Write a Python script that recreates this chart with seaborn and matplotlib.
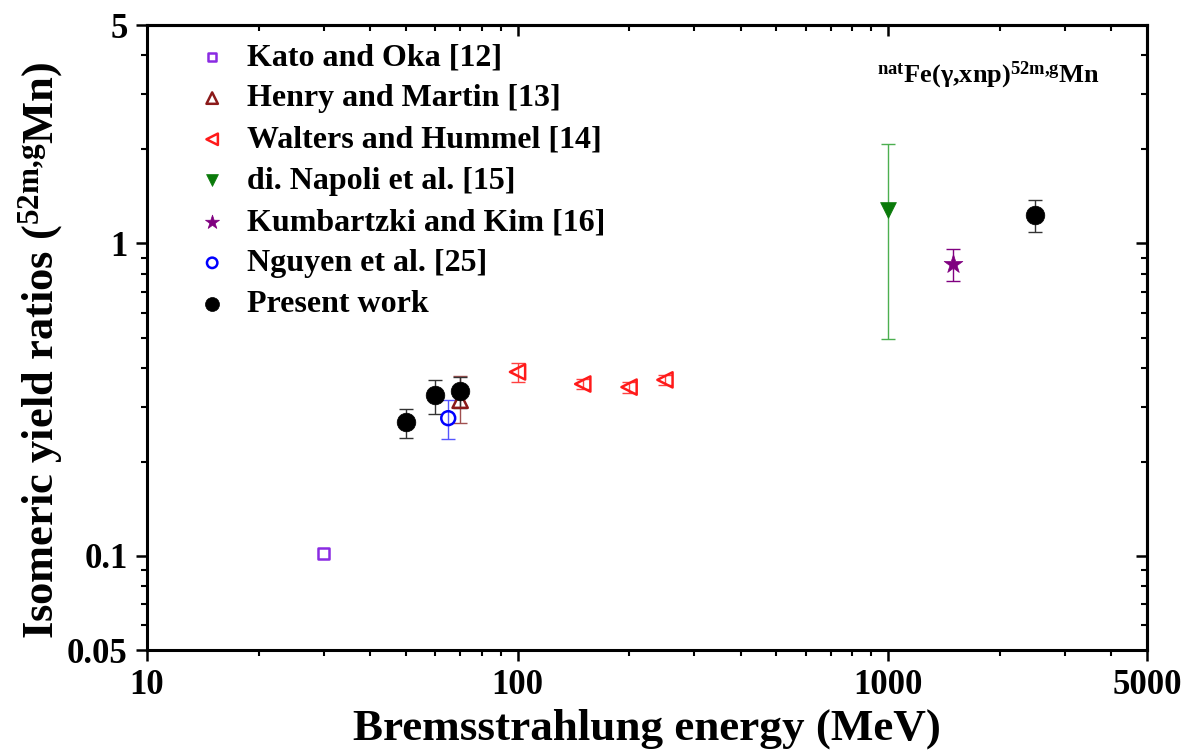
import numpy as np
import pandas as pd
import matplotlib
matplotlib.use("Agg")
import matplotlib.pyplot as plt
import seaborn as sns
from matplotlib.ticker import FixedLocator, FixedFormatter, LogLocator, NullFormatter

# ---------------- data ----------------
kato_x = [30];            kato_y = [0.102]
henry_x = [70];           henry_y = [0.315];  henry_lo = [0.267]; henry_hi = [0.376]
walters_x = [100, 150, 200, 250]
walters_y = [0.388, 0.355, 0.347, 0.366]
walters_lo = [0.360, 0.342, 0.333, 0.352]
walters_hi = [0.414, 0.368, 0.360, 0.380]
napoli_x = [1000];        napoli_y = [1.28];  napoli_lo = [0.495]; napoli_hi = [2.08]
kumb_x = [1500];          kumb_y = [0.86];    kumb_lo = [0.758];   kumb_hi = [0.96]
nguyen_x = [65];          nguyen_y = [0.276]; nguyen_lo = [0.237]; nguyen_hi = [0.315]
present_x = [50, 60, 70, 2500]
present_y = [0.268, 0.327, 0.337, 1.23]
present_lo = [0.238, 0.284, 0.298, 1.088]
present_hi = [0.296, 0.366, 0.374, 1.377]

x_ticks = [10, 100, 1000, 5000]
x_ticklabels = ["10", "100", "1000", "5000"]
y_ticks = [0.05, 0.1, 1, 5]
y_ticklabels = ["0.05", "0.1", "1", "5"]

# ---------------- style ----------------
sns.set_style("ticks")
plt.rcParams["font.family"] = ["Liberation Serif", "DejaVu Serif"]
plt.rcParams["font.weight"] = "bold"
plt.rcParams["text.color"] = "black"
plt.rcParams["axes.labelcolor"] = "black"
plt.rcParams["xtick.color"] = "black"
plt.rcParams["ytick.color"] = "black"
plt.rcParams["axes.edgecolor"] = "black"
plt.rcParams["mathtext.fontset"] = "custom"
plt.rcParams["mathtext.rm"] = "Liberation Serif:bold"
plt.rcParams["mathtext.bf"] = "Liberation Serif:bold"
plt.rcParams["mathtext.it"] = "Liberation Serif:bold:italic"

fig = plt.figure(figsize=(11.81, 7.54), dpi=100)
ax = fig.add_axes([0.1245, 0.1379, 0.8467, 0.8289])

series = [
    ("Kato and Oka [12]", kato_x, kato_y, None, None, "s", "#8A2BE2", False, 60),
    ("Henry and Martin [13]", henry_x, henry_y, henry_lo, henry_hi, "^", "#8B1A1A", False, 120),
    ("Walters and Hummel [14]", walters_x, walters_y, walters_lo, walters_hi, "<", "#FF1A1A", False, 120),
    ("di. Napoli et al. [15]", napoli_x, napoli_y, napoli_lo, napoli_hi, "v", "#0A7A0A", True, 130),
    ("Kumbartzki and Kim [16]", kumb_x, kumb_y, kumb_lo, kumb_hi, "*", "#800080", True, 200),
    ("Nguyen et al. [25]", nguyen_x, nguyen_y, nguyen_lo, nguyen_hi, "o", "#0000FF", False, 100),
    ("Present work", present_x, present_y, present_lo, present_hi, "o", "#000000", True, 180),
]

ebar_colors = {"Present work": "#333333", "di. Napoli et al. [15]": "#4CAF50",
               "Kumbartzki and Kim [16]": "#800080", "Nguyen et al. [25]": "#5555FF",
               "Henry and Martin [13]": "#A05050", "Walters and Hummel [14]": "#FF4040"}

for label, xs, ys, lo, hi, mk, col, filled, size in series:
    xs = np.array(xs, float); ys = np.array(ys, float)
    if lo is not None:
        yerr = np.vstack([ys - np.array(lo), np.array(hi) - ys])
        ax.errorbar(xs, ys, yerr=yerr, fmt="none", ecolor=ebar_colors.get(label, col),
                    elinewidth=1.0, capsize=5, capthick=1.0, zorder=2)
    df = pd.DataFrame({"x": xs, "y": ys})
    if filled:
        sns.scatterplot(data=df, x="x", y="y", marker=mk, s=size, color=col,
                        edgecolor=col, linewidth=0.5, ax=ax, label=label, zorder=3)
    else:
        sns.scatterplot(data=df, x="x", y="y", marker=mk, s=size, color=col,
                        facecolor="none", edgecolor=col, linewidth=1.8, ax=ax,
                        label=label, zorder=3)

ax.set_xscale("log")
ax.set_yscale("log")
ax.set_xlim(10, 5000)
ax.set_ylim(0.05, 5)

ax.xaxis.set_major_locator(FixedLocator(x_ticks))
ax.xaxis.set_major_formatter(FixedFormatter(x_ticklabels))
ax.xaxis.set_minor_locator(LogLocator(base=10, subs=np.arange(2, 10)))
ax.xaxis.set_minor_formatter(NullFormatter())
ax.yaxis.set_major_locator(FixedLocator(y_ticks))
ax.yaxis.set_major_formatter(FixedFormatter(y_ticklabels))
ax.yaxis.set_minor_locator(LogLocator(base=10, subs=np.arange(2, 10)))
ax.yaxis.set_minor_formatter(NullFormatter())

ax.tick_params(which="major", direction="out", length=8, width=1.8, labelsize=25, pad=6,
               colors="black")
ax.tick_params(which="minor", direction="out", length=4.5, width=1.5, colors="black")
for sp in ax.spines.values():
    sp.set_linewidth(2.2)
    sp.set_color("black")

# mirrored axes with inward ticks
secx = ax.secondary_xaxis("top")
secx.xaxis.set_major_locator(FixedLocator(x_ticks))
secx.xaxis.set_minor_locator(LogLocator(base=10, subs=np.arange(2, 10)))
secx.xaxis.set_major_formatter(NullFormatter())
secx.xaxis.set_minor_formatter(NullFormatter())
secx.tick_params(which="major", direction="in", length=8, width=1.8, colors="black")
secx.tick_params(which="minor", direction="in", length=4.5, width=1.5, colors="black")
secx.spines["top"].set_linewidth(2.2)
secx.spines["top"].set_color("black")

secy = ax.secondary_yaxis("right")
secy.yaxis.set_major_locator(FixedLocator(y_ticks))
secy.yaxis.set_minor_locator(LogLocator(base=10, subs=np.arange(2, 10)))
secy.yaxis.set_major_formatter(NullFormatter())
secy.yaxis.set_minor_formatter(NullFormatter())
secy.tick_params(which="major", direction="in", length=8, width=1.8, colors="black")
secy.tick_params(which="minor", direction="in", length=4.5, width=1.5, colors="black")
secy.spines["right"].set_linewidth(2.2)
secy.spines["right"].set_color("black")

ax.set_xlabel("Bremsstrahlung energy (MeV)", fontsize=32.5, fontweight="bold", labelpad=4,
              color="black")
ax.set_ylabel(r"Isomeric yield ratios ($\mathrm{^{52m{,}g}}$Mn)", fontsize=32,
              fontweight="bold", labelpad=2, color="black")
ax.yaxis.set_label_coords(-0.082, 0.48)

ax.text(0.953, 0.92, r"$\mathrm{^{nat}}$Fe(γ,xnp)$\mathrm{^{52m{,}g}}$Mn",
        transform=ax.transAxes, ha="right", va="center", fontsize=19, fontweight="bold",
        color="black")

leg = ax.legend(loc="upper left", bbox_to_anchor=(0.03, 1.002), frameon=False,
                fontsize=23, labelspacing=0.37, handletextpad=0.6, markerscale=0.75,
                borderaxespad=0.2, handlelength=1.0)
for t in leg.get_texts():
    t.set_fontweight("bold")
    t.set_color("black")

fig.savefig("out.png", dpi=100)
